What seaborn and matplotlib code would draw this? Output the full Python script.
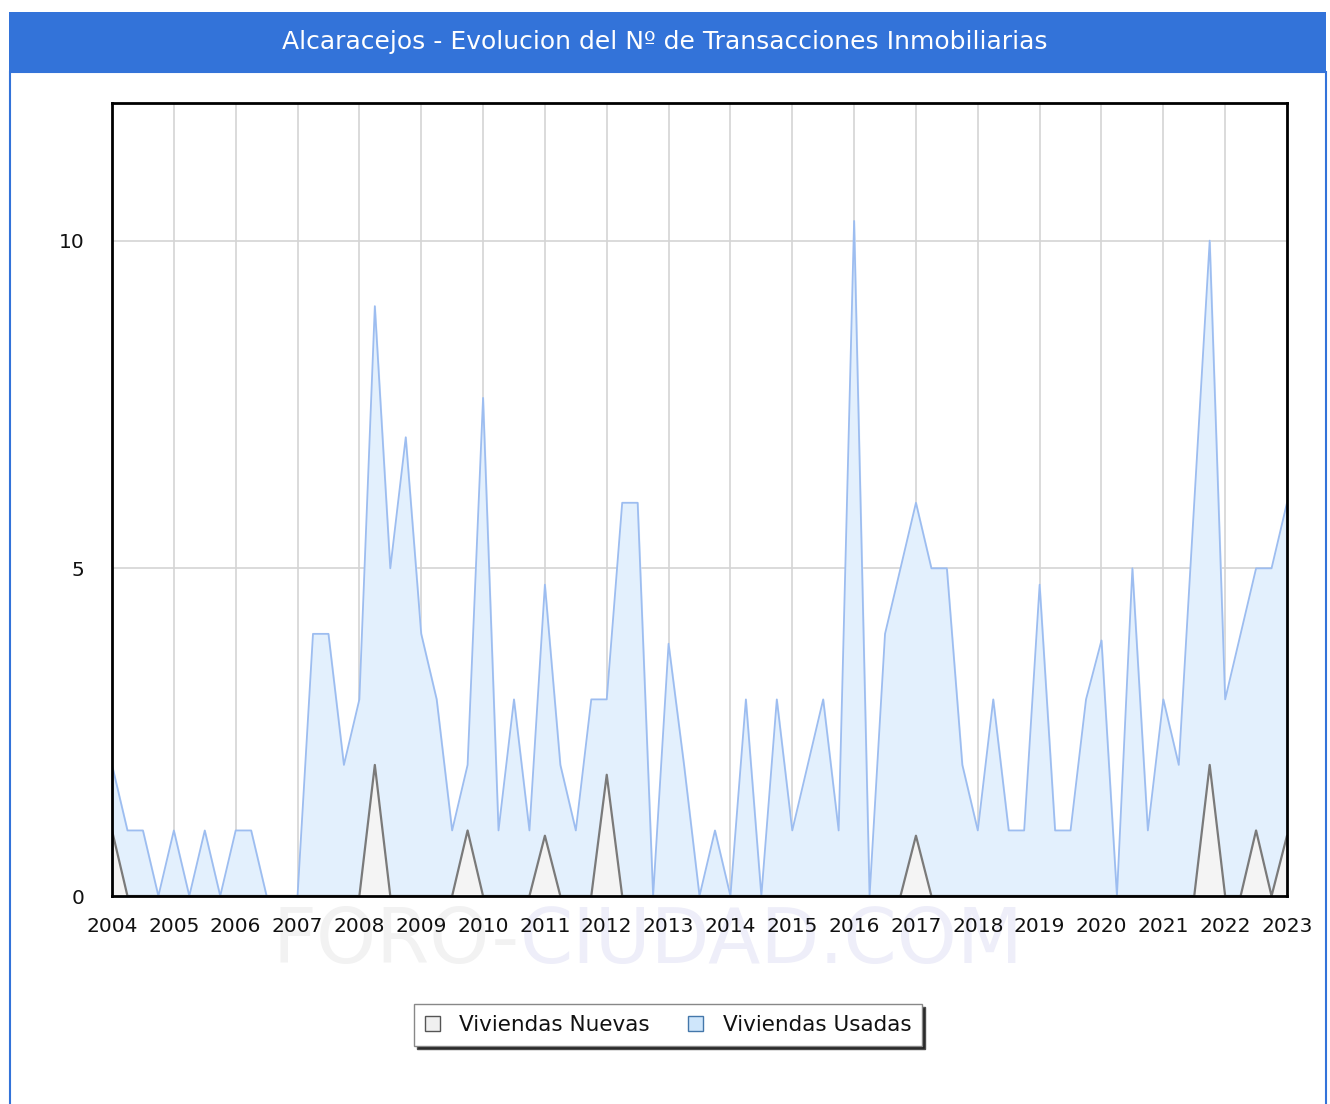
import numpy as np
import pandas as pd
import matplotlib
matplotlib.use('Agg')
import matplotlib.pyplot as plt
import seaborn as sns
from matplotlib.patches import Rectangle, Patch

# quarterly values 2004Q1 .. 2023Q1
usadas = [2, 1, 1, 0,
          1, 0, 1, 0,
          1, 1, 0, 0,
          0, 4, 4, 2,
          3, 9, 5, 7,
          4, 3, 1, 2,
          7.6, 1, 3, 1,
          4.75, 2, 1, 3,
          3, 6, 6, 0,
          3.85, 2, 0, 1,
          0, 3, 0, 3,
          1, 2, 3, 1,
          10.3, 0, 4, 5,
          6, 5, 5, 2,
          1, 3, 1, 1,
          4.75, 1, 1, 3,
          3.9, 0, 5, 1,
          3, 2, 6, 10,
          3, 4, 5, 5,
          6]
nuevas = [1, 0, 0, 0,
          0, 0, 0, 0,
          0, 0, 0, 0,
          0, 0, 0, 0,
          0, 2, 0, 0,
          0, 0, 0, 1,
          0, 0, 0, 0,
          0.92, 0, 0, 0,
          1.85, 0, 0, 0,
          0, 0, 0, 0,
          0, 0, 0, 0,
          0, 0, 0, 0,
          0, 0, 0, 0,
          0.92, 0, 0, 0,
          0, 0, 0, 0,
          0, 0, 0, 0,
          0, 0, 0, 0,
          0, 0, 0, 2,
          0, 0, 1, 0,
          0.92]
years = list(range(2004, 2024))
titulo = 'Alcaracejos - Evolucion del Nº de Transacciones Inmobiliarias'

df = pd.DataFrame({'fecha': 2004 + np.arange(len(usadas)) * 0.25,
                   'usadas': usadas, 'nuevas': nuevas})

sns.set_style('white')
plt.rcParams['font.family'] = ['DejaVu Sans']

fig = plt.figure(figsize=(13.3, 11.04), dpi=100)
W, H = 1330, 1104

# title bar and panel border
fig.patches.append(Rectangle((9.5 / W, -0.1), 1316 / W, 1.1 - 72 / H, transform=fig.transFigure,
                             facecolor='none', edgecolor='#3373d9', lw=1.5, zorder=0))
fig.patches.append(Rectangle((9 / W, 1 - 72 / H), 1317 / W, 60 / H, transform=fig.transFigure,
                             facecolor='#3373d9', edgecolor='none', zorder=1))
fig.text(0.5, 1 - 42 / H, titulo, color='white', fontsize=18, ha='center', va='center')

# watermark (behind the axes)
fig.text(520 / W, 1 - 942 / H, 'FORO-', color='#f2f2f2', fontsize=55, ha='right', va='center', zorder=-1)
fig.text(520 / W, 1 - 942 / H, 'CIUDAD.COM', color='#eeeef9', fontsize=55, ha='left', va='center', zorder=-1)

ax = fig.add_axes([112 / W, 1 - 896 / H, 1175 / W, 793 / H])
ax.patch.set_alpha(0)

ax.fill_between(df['fecha'], df['usadas'], color='#e3f0fd', zorder=1)
sns.lineplot(data=df, x='fecha', y='usadas', ax=ax, color='#9dbdf0', lw=1.3, zorder=2)
ax.fill_between(df['fecha'], df['nuevas'], color='#f4f4f4', zorder=3)
sns.lineplot(data=df, x='fecha', y='nuevas', ax=ax, color='#7a7a7a', lw=1.6, zorder=4)

ax.set_xlim(2004, 2023)
ax.set_ylim(0, 12.1)
ax.set_xticks(years)
ax.set_xticklabels([str(y) for y in years])
ax.set_yticks([0, 5, 10])
ax.grid(True, color='#d4d4d4', lw=1.2)
ax.set_axisbelow(True)
ax.tick_params(axis='both', length=0, labelsize=14.5, labelcolor='#111111')
ax.tick_params(axis='x', pad=15)
ax.tick_params(axis='y', pad=20)
ax.set_xlabel('')
ax.set_ylabel('')
for s in ax.spines.values():
    s.set_color('black')
    s.set_linewidth(2)
    s.set_zorder(5)

handles = [Patch(facecolor='#f0f0f0', edgecolor='#555555', lw=1),
           Patch(facecolor='#cfe6fb', edgecolor='#4477aa', lw=1)]
leg = fig.legend(handles, ['Viviendas Nuevas', 'Viviendas Usadas'], loc='center',
                 bbox_to_anchor=(668 / W, 1 - 1025 / H), ncol=2, fontsize=15.5,
                 frameon=True, fancybox=False, shadow={'facecolor': '#222222', 'alpha': 1},
                 handlelength=0.7, handleheight=0.7, columnspacing=1.8, handletextpad=0.9,
                 borderpad=0.5, edgecolor='#888888', labelcolor='#111111')
leg.get_frame().set_linewidth(1)

fig.savefig('out.png', dpi=100)
